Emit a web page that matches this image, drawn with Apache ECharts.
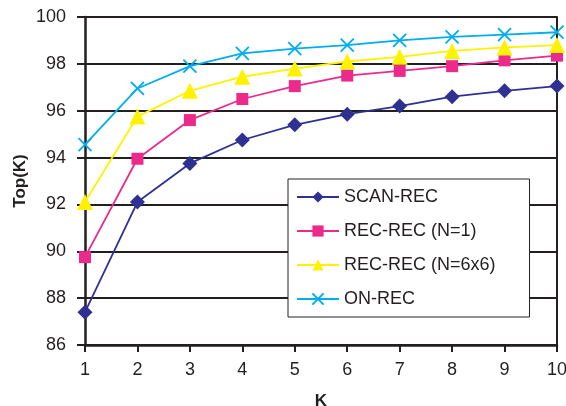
<!DOCTYPE html>
<html>
<head>
<meta charset="utf-8">
<script src="https://cdn.jsdelivr.net/npm/echarts@6/dist/echarts.min.js"></script>
<style>
    html, body { margin: 0; padding: 0; background: #fff; }
    #chart { width: 566px; height: 406px; }
</style>
</head>
<body>
<div id="chart"></div>
<script>
    // K values on the x axis
    var kValues = [1, 2, 3, 4, 5, 6, 7, 8, 9, 10];
    var yTicks = [86, 88, 90, 92, 94, 96, 98, 100];

    var scanRec = [87.4, 92.1, 93.75, 94.75, 95.4, 95.85, 96.2, 96.6, 96.85, 97.05];
    var recRecN1 = [89.75, 93.95, 95.6, 96.5, 97.05, 97.5, 97.7, 97.9, 98.15, 98.35];
    var recRecN6 = [92.1, 95.75, 96.85, 97.45, 97.8, 98.1, 98.3, 98.55, 98.7, 98.8];
    var onRec = [94.55, 96.95, 97.9, 98.45, 98.65, 98.8, 99.0, 99.15, 99.25, 99.35];

    var seriesNames = ['SCAN-REC', 'REC-REC (N=1)', 'REC-REC (N=6x6)', 'ON-REC'];

    function pairs(vals) {
        return kValues.map(function (k, i) { return [k, vals[i]]; });
    }

    var font = 'Liberation Sans, Arial, sans-serif';
    var crossPath = 'path://M0,0L10,10M10,0L0,10';

    var chart = echarts.init(document.getElementById('chart'));
    chart.setOption({
        animation: false,
        textStyle: { fontFamily: font },
        grid: { left: 85, right: 9, top: 17, bottom: 61, outerBoundsMode: 'none', containLabel: false },
        legend: {
            orient: 'vertical',
            left: 288,
            top: 179,
            padding: [9, 34, 9, 8],
            itemWidth: 42,
            itemHeight: 14,
            itemGap: 16,
            backgroundColor: '#fff',
            borderColor: '#222',
            borderWidth: 1,
            textStyle: { fontSize: 18, color: '#231f20', fontFamily: font },
            data: seriesNames
        },
        xAxis: {
            type: 'value',
            min: 1,
            max: 10,
            interval: 1,
            name: 'K',
            nameLocation: 'middle',
            nameGap: 48,
            nameTextStyle: { fontSize: 17, fontWeight: 'bold', color: '#231f20' },
            axisLine: { lineStyle: { color: '#231f20', width: 2.5 } },
            axisTick: { inside: false, length: 7, lineStyle: { color: '#231f20', width: 2 } },
            axisLabel: { fontSize: 18, color: '#231f20', margin: 16 },
            splitLine: { show: false }
        },
        yAxis: [{
            type: 'value',
            min: yTicks[0],
            max: yTicks[yTicks.length - 1],
            interval: 2,
            name: 'Top(K)',
            nameLocation: 'middle',
            nameGap: 56,
            nameMoveOverlap: false,
            nameTextStyle: { fontSize: 17, fontWeight: 'bold', color: '#231f20' },
            axisLine: { show: true, lineStyle: { color: '#231f20', width: 2.5 } },
            axisTick: { show: true, inside: false, length: 8, lineStyle: { color: '#231f20', width: 2 } },
            axisLabel: { fontSize: 18, color: '#231f20', margin: 19 },
            splitLine: { show: true, lineStyle: { color: '#231f20', width: 2 } }
        }, {
            type: 'value',
            position: 'right',
            min: yTicks[0],
            max: yTicks[yTicks.length - 1],
            axisLine: { show: true, lineStyle: { color: '#231f20', width: 2 } },
            axisTick: { show: false },
            axisLabel: { show: false },
            splitLine: { show: false }
        }],
        series: [{
            name: seriesNames[0],
            type: 'line',
            data: pairs(scanRec),
            symbol: 'diamond',
            symbolSize: 15,
            color: '#2e3192',
            lineStyle: { color: '#2e3192', width: 1.8 },
            itemStyle: { color: '#2e3192' }
        }, {
            name: seriesNames[1],
            type: 'line',
            data: pairs(recRecN1),
            symbol: 'rect',
            symbolSize: 12,
            color: '#ec2a8c',
            lineStyle: { color: '#ec2a8c', width: 1.8 },
            itemStyle: { color: '#ec2a8c' }
        }, {
            name: seriesNames[2],
            type: 'line',
            data: pairs(recRecN6),
            symbol: 'triangle',
            symbolSize: 16,
            color: '#fff200',
            lineStyle: { color: '#fff200', width: 1.8 },
            itemStyle: { color: '#fff200' }
        }, {
            name: seriesNames[3],
            type: 'line',
            data: pairs(onRec),
            symbol: crossPath,
            symbolSize: 13,
            color: '#00aeef',
            lineStyle: { color: '#00aeef', width: 1.8 },
            itemStyle: { color: '#00aeef', borderColor: '#00aeef', borderWidth: 1.8 }
        }]
    });
</script>
</body>
</html>
